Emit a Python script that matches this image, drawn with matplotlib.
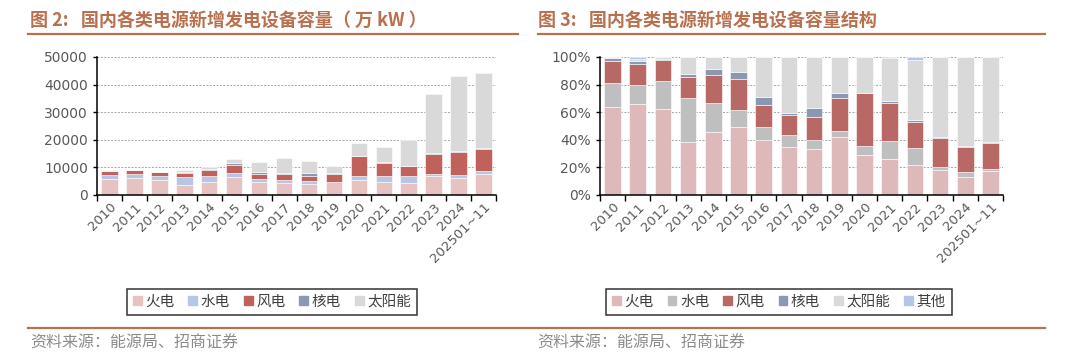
import matplotlib
matplotlib.use('Agg')
import matplotlib.pyplot as plt
import matplotlib.patches as mpatches
from matplotlib.lines import Line2D
from matplotlib.ticker import FuncFormatter
import numpy as np

plt.rcParams['font.family'] = ['Noto Sans CJK SC', 'DejaVu Sans']

years = ['2010', '2011', '2012', '2013', '2014', '2015', '2016', '2017', '2018',
         '2019', '2020', '2021', '2022', '2023', '2024', '202501~11']

# 图2: 新增发电设备容量（万kW）
thermal = [5800, 6280, 5310, 3620, 4710, 6520, 4830, 4350, 4110, 4590, 5560, 4590, 4470, 6760, 6040, 7730]
hydro = [1450, 1210, 1450, 2900, 2050, 1450, 970, 1210, 840, 240, 1200, 2170, 2290, 730, 1210, 970]
wind = [1450, 1450, 1450, 1450, 2180, 2900, 1930, 2170, 2050, 2660, 7250, 4830, 3750, 7490, 8330, 8090]
nuclear = [170, 180, 0, 240, 480, 720, 720, 120, 850, 360, 100, 250, 100, 100, 240, 100]
solar = [180, 60, 120, 970, 720, 1330, 3510, 5550, 4590, 2660, 4730, 5670, 9430, 21630, 27300, 27430]

# 图3: 新增发电设备容量结构（%）
p_thermal = [63.8, 65.9, 62.6, 38.4, 45.9, 49.3, 39.6, 34.5, 33.1, 42.0, 29.2, 26.1, 22.0, 17.9, 13.3, 17.4]
p_hydro = [17.6, 13.6, 19.8, 31.9, 20.8, 12.1, 9.7, 9.0, 6.8, 4.1, 6.1, 13.3, 12.1, 2.6, 3.1, 1.7]
p_wind = [15.5, 15.7, 15.7, 15.0, 20.0, 22.7, 15.7, 14.7, 16.4, 24.2, 38.6, 27.0, 18.8, 20.8, 18.6, 18.6]
p_nuclear = [2.4, 2.1, 0.7, 2.4, 4.8, 5.3, 6.0, 1.5, 7.0, 3.6, 0.3, 1.5, 1.2, 0.5, 0.5, 0.5]
p_solar = [0.7, 1.5, 1.2, 12.3, 8.5, 10.6, 29.0, 40.3, 36.7, 26.1, 25.5, 31.4, 44.0, 58.2, 64.5, 61.8]
p_other = [0.0, 1.2, 0.0, 0.0, 0.0, 0.0, 0.0, 0.0, 0.0, 0.0, 0.3, 0.7, 1.9, 0.0, 0.0, 0.0]

W, H = 1080, 363
fig = plt.figure(figsize=(W / 100, H / 100), dpi=100)

title_color = '#B8704F'
tick_color = '#595959'


def px(x0, y0, x1, y1):
    return [x0 / W, 1 - y1 / H, (x1 - x0) / W, (y1 - y0) / H]


def style_axes(ax):
    n = len(years)
    ax.set_xlim(-0.5, n - 0.5)
    ax.set_xticks(np.arange(n))
    ax.set_xticklabels(years, rotation=45, ha='right', rotation_mode='anchor',
                       fontsize=9.5, color=tick_color, family='DejaVu Sans')
    ax.tick_params(axis='x', which='major', length=0, pad=4)
    ax.set_xticks(np.arange(n + 1) - 0.5, minor=True)
    ax.tick_params(axis='x', which='minor', length=4, width=1, direction='out')
    ax.tick_params(axis='y', length=3, width=1, labelsize=10, labelcolor=tick_color)
    for lab in ax.get_yticklabels():
        lab.set_family('DejaVu Sans')
    for s in ['top', 'right']:
        ax.spines[s].set_visible(False)
    for s in ['left', 'bottom']:
        ax.spines[s].set_linewidth(1.1)
    ax.yaxis.grid(True, linestyle=(0, (2, 1.5)), color='#A6A6A6', linewidth=0.7)
    ax.set_axisbelow(True)


def stacked(ax, series, colors, width):
    x = np.arange(len(years))
    bottom = np.zeros(len(years))
    for vals, c in zip(series, colors):
        vals = np.array(vals, dtype=float)
        ax.bar(x, vals, width, bottom=bottom, color=c, edgecolor='white', linewidth=0.4)
        bottom += vals


# ---- left chart
ax1 = fig.add_axes(px(97, 57, 496, 195))
left_colors = ['#E6C2C1', '#B6C6E6', '#C1615B', '#8A98B0', '#D9D9D9']
left_labels = ['火电', '水电', '风电', '核电', '太阳能']
stacked(ax1, [thermal, hydro, wind, nuclear, solar], left_colors, 0.66)
ax1.set_ylim(0, 50000)
ax1.set_yticks(np.arange(0, 50001, 10000))
style_axes(ax1)

# ---- right chart
ax2 = fig.add_axes(px(600, 57, 1003, 195))
right_colors = ['#DDB9B9', '#BFBFBF', '#B86966', '#8A99B1', '#D9D9D9', '#B4C6E7']
right_labels = ['火电', '水电', '风电', '核电', '太阳能', '其他']
stacked(ax2, [p_thermal, p_hydro, p_wind, p_nuclear, p_solar, p_other], right_colors, 0.66)
ax2.set_ylim(0, 100)
ax2.set_yticks(np.arange(0, 101, 20))
ax2.yaxis.set_major_formatter(FuncFormatter(lambda v, p: f'{int(v)}%'))
style_axes(ax2)

# ---- legends
for labels, colors, cx in [(left_labels, left_colors, 272 / W), (right_labels, right_colors, 779 / W)]:
    handles = [mpatches.Patch(color=c, label=l) for l, c in zip(labels, colors)]
    leg = fig.legend(handles=handles, loc='center', bbox_to_anchor=(cx, 1 - 302 / H),
                     ncol=len(labels), frameon=True, fancybox=False, fontsize=10.5,
                     handlelength=0.6, handleheight=0.6, handletextpad=0.25,
                     columnspacing=0.95, borderpad=0.4)
    leg.get_frame().set_edgecolor('black')
    leg.get_frame().set_linewidth(1.1)
    for t in leg.get_texts():
        t.set_color('#404040')

# ---- titles and rules
fig.text(30 / W, 1 - 20 / H, '图 2:   国内各类电源新增发电设备容量（ 万 kW ）',
         fontsize=13, fontweight='bold', color=title_color, va='center', ha='left')
fig.text(538 / W, 1 - 20 / H, '图 3:   国内各类电源新增发电设备容量结构',
         fontsize=13, fontweight='bold', color=title_color, va='center', ha='left')
for x0, x1 in [(28, 518), (538, 1045)]:
    fig.add_artist(Line2D([x0 / W, x1 / W], [1 - 33.5 / H, 1 - 33.5 / H],
                          color=title_color, linewidth=1.6))
fig.add_artist(Line2D([28 / W, 1045 / W], [1 - 328 / H, 1 - 328 / H],
                      color=title_color, linewidth=1.6))

fig.text(30 / W, 1 - 343 / H, '资料来源：能源局、招商证券', fontsize=11.5,
         color='#8C8C8C', va='center', ha='left')
fig.text(537 / W, 1 - 343 / H, '资料来源：能源局、招商证券', fontsize=11.5,
         color='#8C8C8C', va='center', ha='left')

fig.savefig('out.png', dpi=100)
